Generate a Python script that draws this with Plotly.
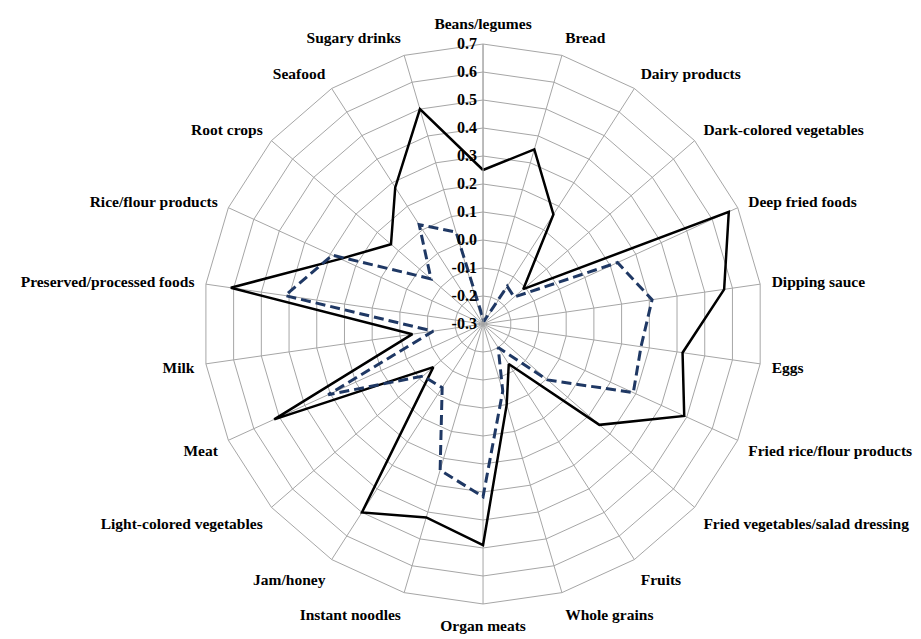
import plotly.graph_objects as go

categories = [
    "Beans/legumes", "Bread", "Dairy products", "Dark-colored vegetables",
    "Deep fried foods", "Dipping sauce", "Eggs", "Fried rice/flour products",
    "Fried vegetables/salad dressing", "Fruits", "Whole grains", "Organ meats",
    "Instant noodles", "Jam/honey", "Light-colored vegetables", "Meat", "Milk",
    "Preserved/processed foods", "Rice/flour products", "Root crops", "Seafood",
    "Sugary drinks",
]

series_solid = [0.25, 0.35, 0.165, -0.11, 0.665, 0.57, 0.42, 0.49, 0.25, -0.13,
                0.0, 0.49, 0.42, 0.50, -0.065, 0.52, -0.045, 0.61, 0.26, 0.135,
                0.28, 0.50]

series_dashed = [-0.28, -0.29, -0.14, -0.153, 0.228, 0.31, 0.27, 0.29, 0.005, -0.2,
                 -0.05, 0.317, 0.244, -0.03, -0.016, 0.308, -0.12, 0.414, 0.292,
                 -0.054, 0.122, 0.042]

radial_ticks = [-0.3, -0.2, -0.1, 0.0, 0.1, 0.2, 0.3, 0.4, 0.5, 0.6, 0.7]

fig = go.Figure()
fig.add_trace(go.Scatterpolar(
    r=series_solid + series_solid[:1],
    theta=categories + categories[:1],
    mode="lines",
    line=dict(color="#000000", width=2.5),
    showlegend=False,
))
fig.add_trace(go.Scatterpolar(
    r=series_dashed + series_dashed[:1],
    theta=categories + categories[:1],
    mode="lines",
    line=dict(color="#1F3864", width=3, dash="10px,5px"),
    showlegend=False,
))

grid = "#A6A6A6"
fig.update_layout(
    width=905, height=631,
    margin=dict(l=0, r=0, t=0, b=0),
    paper_bgcolor="white",
    font=dict(family="Liberation Serif", color="black"),
    polar=dict(
        domain=dict(x=[0.2155, 0.8343], y=[0.0555, 0.9429]),
        bgcolor="white",
        gridshape="linear",
        radialaxis=dict(
            range=[-0.3, 0.7],
            tickvals=radial_ticks,
            ticktext=[f"{v:.1f}" for v in radial_ticks],
            angle=90,
            tickangle=90,
            side="counterclockwise",
            showline=True,
            linecolor=grid,
            linewidth=1,
            gridcolor=grid,
            gridwidth=1,
            ticks="",
            tickfont=dict(family="Liberation Serif", size=16, color="black", weight="bold"),
        ),
        angularaxis=dict(
            direction="clockwise",
            rotation=90,
            showline=True,
            linecolor=grid,
            linewidth=1,
            gridcolor=grid,
            gridwidth=1,
            ticks="outside",
            ticklen=8,
            tickcolor="rgba(0,0,0,0)",
            tickfont=dict(family="Liberation Serif", size=15.5, color="black", weight="bold"),
        ),
    ),
)

fig.write_html("out.html")
